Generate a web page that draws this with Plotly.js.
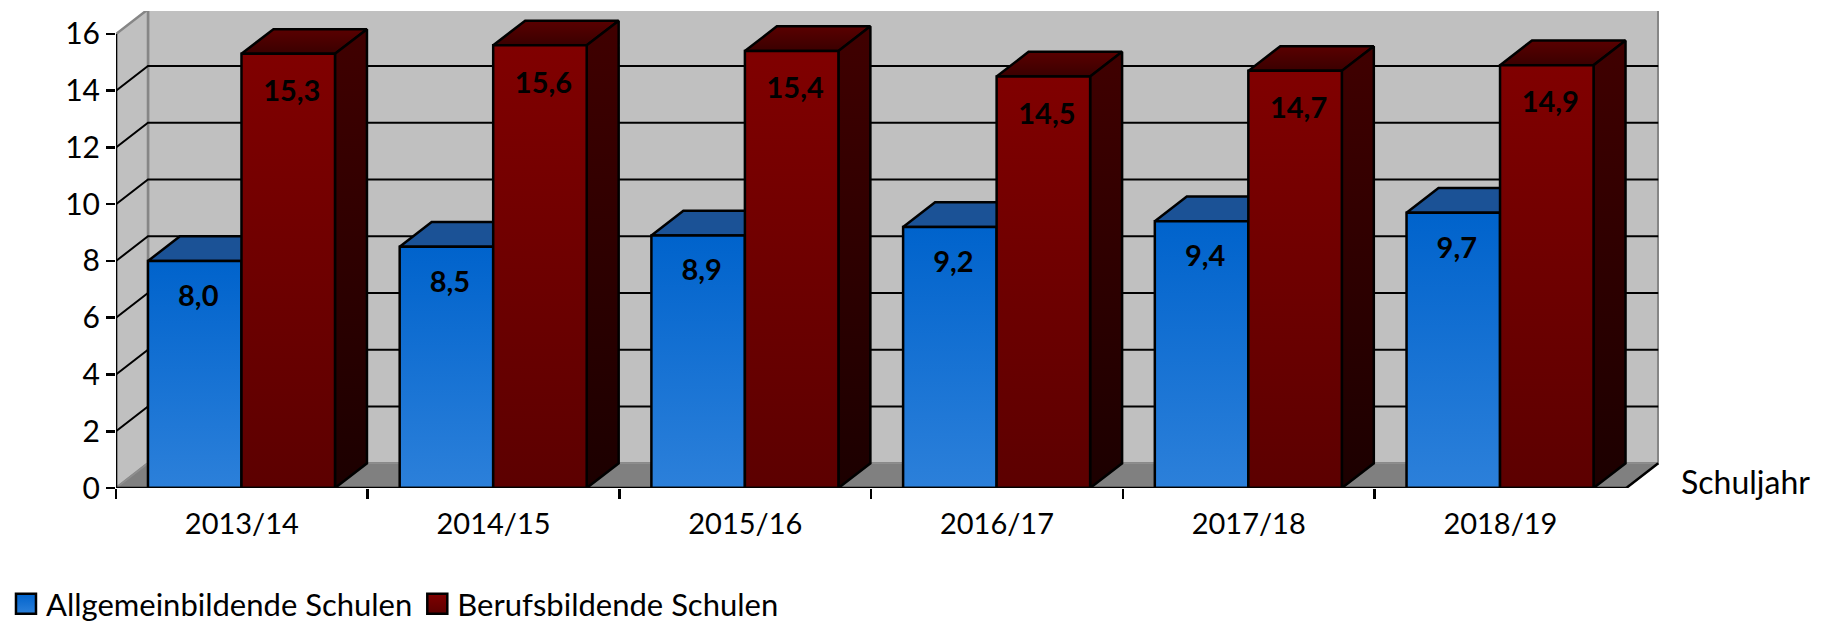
<!DOCTYPE html>
<html><head><meta charset="utf-8">
<script src="https://cdn.plot.ly/plotly-3.0.1.min.js"></script>
<style>html,body{margin:0;padding:0;background:#fff}#c{width:1832px;height:622px}</style>
</head><body><div id="c"></div>
<script>
var categories = ['2013/14','2014/15','2015/16','2016/17','2017/18','2018/19'];
var allgemein = [8.0,8.5,8.9,9.2,9.4,9.7];
var beruf = [15.3,15.6,15.4,14.5,14.7,14.9];
var yTicks = [0,2,4,6,8,10,12,14,16];
var nameA = 'Allgemeinbildende Schulen';
var nameB = 'Berufsbildende Schulen';
var xTitle = 'Schuljahr';

var FONT = 'Lato, Carlito, sans-serif';
var dx = 0.127, dy = 0.87;      // 3-D depth in axis units
var gap = 0.127, barW = 0.3715; // bar layout in category units
var yMax = 16.81, xMax = 6.13;

var traces = [];
function poly(xs, ys, opt){
  var t = {type:'scatter', mode:'lines', x:xs.concat(xs[0]), y:ys.concat(ys[0]), fill:'toself',
    hoverinfo:'skip', showlegend:false, line:{color:opt.line||'#000', width:opt.w===undefined?2.5:opt.w, shape:'linear'}};
  if(opt.grad) t.fillgradient = {type:'vertical', colorscale:[[0,opt.grad[0]],[1,opt.grad[1]]]};
  else t.fillcolor = opt.fill;
  traces.push(t);
}
function path(xs, ys, color, w){
  traces.push({type:'scatter', mode:'lines', x:xs, y:ys, hoverinfo:'skip', showlegend:false, line:{color:color, width:w}});
}
var n = categories.length;
poly([dx,n+dx,n+dx,dx],[dy,dy,16+dy,16+dy],{fill:'#c0c0c0',line:'#868686',w:2.5});
poly([0,dx,dx,0],[0,dy,16+dy,16],{fill:'#c0c0c0',line:'#868686',w:2.5});
poly([0,dx,n+dx,n],[0,dy,dy,0],{fill:'#808080',line:'#8e8e8e',w:1.5});
yTicks.slice(1,-1).forEach(function(v){
  path([0,dx,n+dx],[v,v+dy,v+dy],'#000',2);
});
path([n,n+dx],[0,dy],'#000',2.5);

function bar(i, start, v, front, top, side, withSide){
  var x0=i+start, x1=x0+barW;
  poly([x0,x1,x1+dx,x0+dx],[v,v,v+dy,v+dy],{grad:top});
  if(withSide) poly([x1,x1+dx,x1+dx,x1],[0,dy,v+dy,v],{grad:side});
  poly([x0,x1,x1,x0],[0,0,v,v],{grad:front});
}
categories.forEach(function(c,i){
  bar(i,gap,allgemein[i],['#2c80da','#0063cc'],['#1b5296','#1b5296'],['#0a2a50','#0a3a70'],false);
  bar(i,gap+barW,beruf[i],['#5c0000','#800000'],['#3a0000','#5a0000'],['#1c0000','#400000'],true);
});
path([0,0],[0,16],'#000',2.5);
path([0,n],[0,0],'#000',2.5);
function fmt(v){return v.toFixed(1).replace('.',',');}
function labels(start, vals, off){
  traces.push({type:'scatter', mode:'text', x:vals.map(function(v,i){return i+start+barW/2+0.014;}),
    y:vals.map(function(v){return v-off;}), text:vals.map(fmt), textposition:'middle center',
    textfont:{family:FONT,size:29,color:'#000',weight:700}, hoverinfo:'skip', showlegend:false});
}
labels(gap,allgemein,1.33);
labels(gap+barW,beruf,1.41);
function leg(name, c0, c1){
  traces.push({type:'scatter', mode:'markers', x:[null], y:[null], name:name, showlegend:true,
    marker:{symbol:'square', size:18, color:c0, gradient:{type:'vertical',color:c1}, line:{color:'#000',width:2}}});
}
leg(nameA,'#0063cc','#2c80da');
leg(nameB,'#800000','#5c0000');

var plotW = xMax*251.67, plotH = 477;
var layout = {
  width:1832, height:622, paper_bgcolor:'#fff', plot_bgcolor:'rgba(0,0,0,0)',
  margin:{l:116, r:1832-116-plotW, t:11, b:134, autoexpand:false},
  font:{family:FONT, color:'#000', size:29},
  showlegend:true,
  legend:{orientation:'h', x:(6-116)/plotW, xanchor:'left', y:(488-604)/plotH, yanchor:'middle', font:{family:FONT,size:31},
    itemsizing:'trace', itemwidth:30, tracegroupgap:0, bgcolor:'rgba(0,0,0,0)'},
  xaxis:{range:[0,xMax], showgrid:false, zeroline:false, showline:false, ticks:'',
    tickmode:'array', tickvals:categories.map(function(c,i){return i+0.5;}), ticktext:categories,
    tickfont:{family:FONT,size:29,color:'#000'}, ticklabelstandoff:16,
    minor:{tickmode:'array', tickvals:categories.map(function(c,i){return i;}), ticks:'outside', ticklen:10, tickwidth:2.5, tickcolor:'#000', showgrid:false}},
  yaxis:{range:[0,yMax], showgrid:false, zeroline:false, showline:false, ticks:'outside', ticklen:9, tickwidth:2.5, tickcolor:'#000',
    tickmode:'array', tickvals:yTicks, ticktext:yTicks.map(String), tickfont:{family:FONT,size:30,color:'#000'}},
  annotations:[{xref:'paper',yref:'paper',x:(1679-116)/plotW,y:(488-481)/plotH,text:xTitle,showarrow:false,xanchor:'left',yanchor:'middle',
    font:{family:FONT,size:32,color:'#000'}}]
};
Plotly.newPlot('c',traces,layout,{displayModeBar:false,staticPlot:true}).then(function(){
  document.querySelectorAll('.legend path.scatterpts').forEach(function(p){
    p.setAttribute('transform',(p.getAttribute('transform')||'')+' scale(1.25)');
  });
});
</script></body></html>
